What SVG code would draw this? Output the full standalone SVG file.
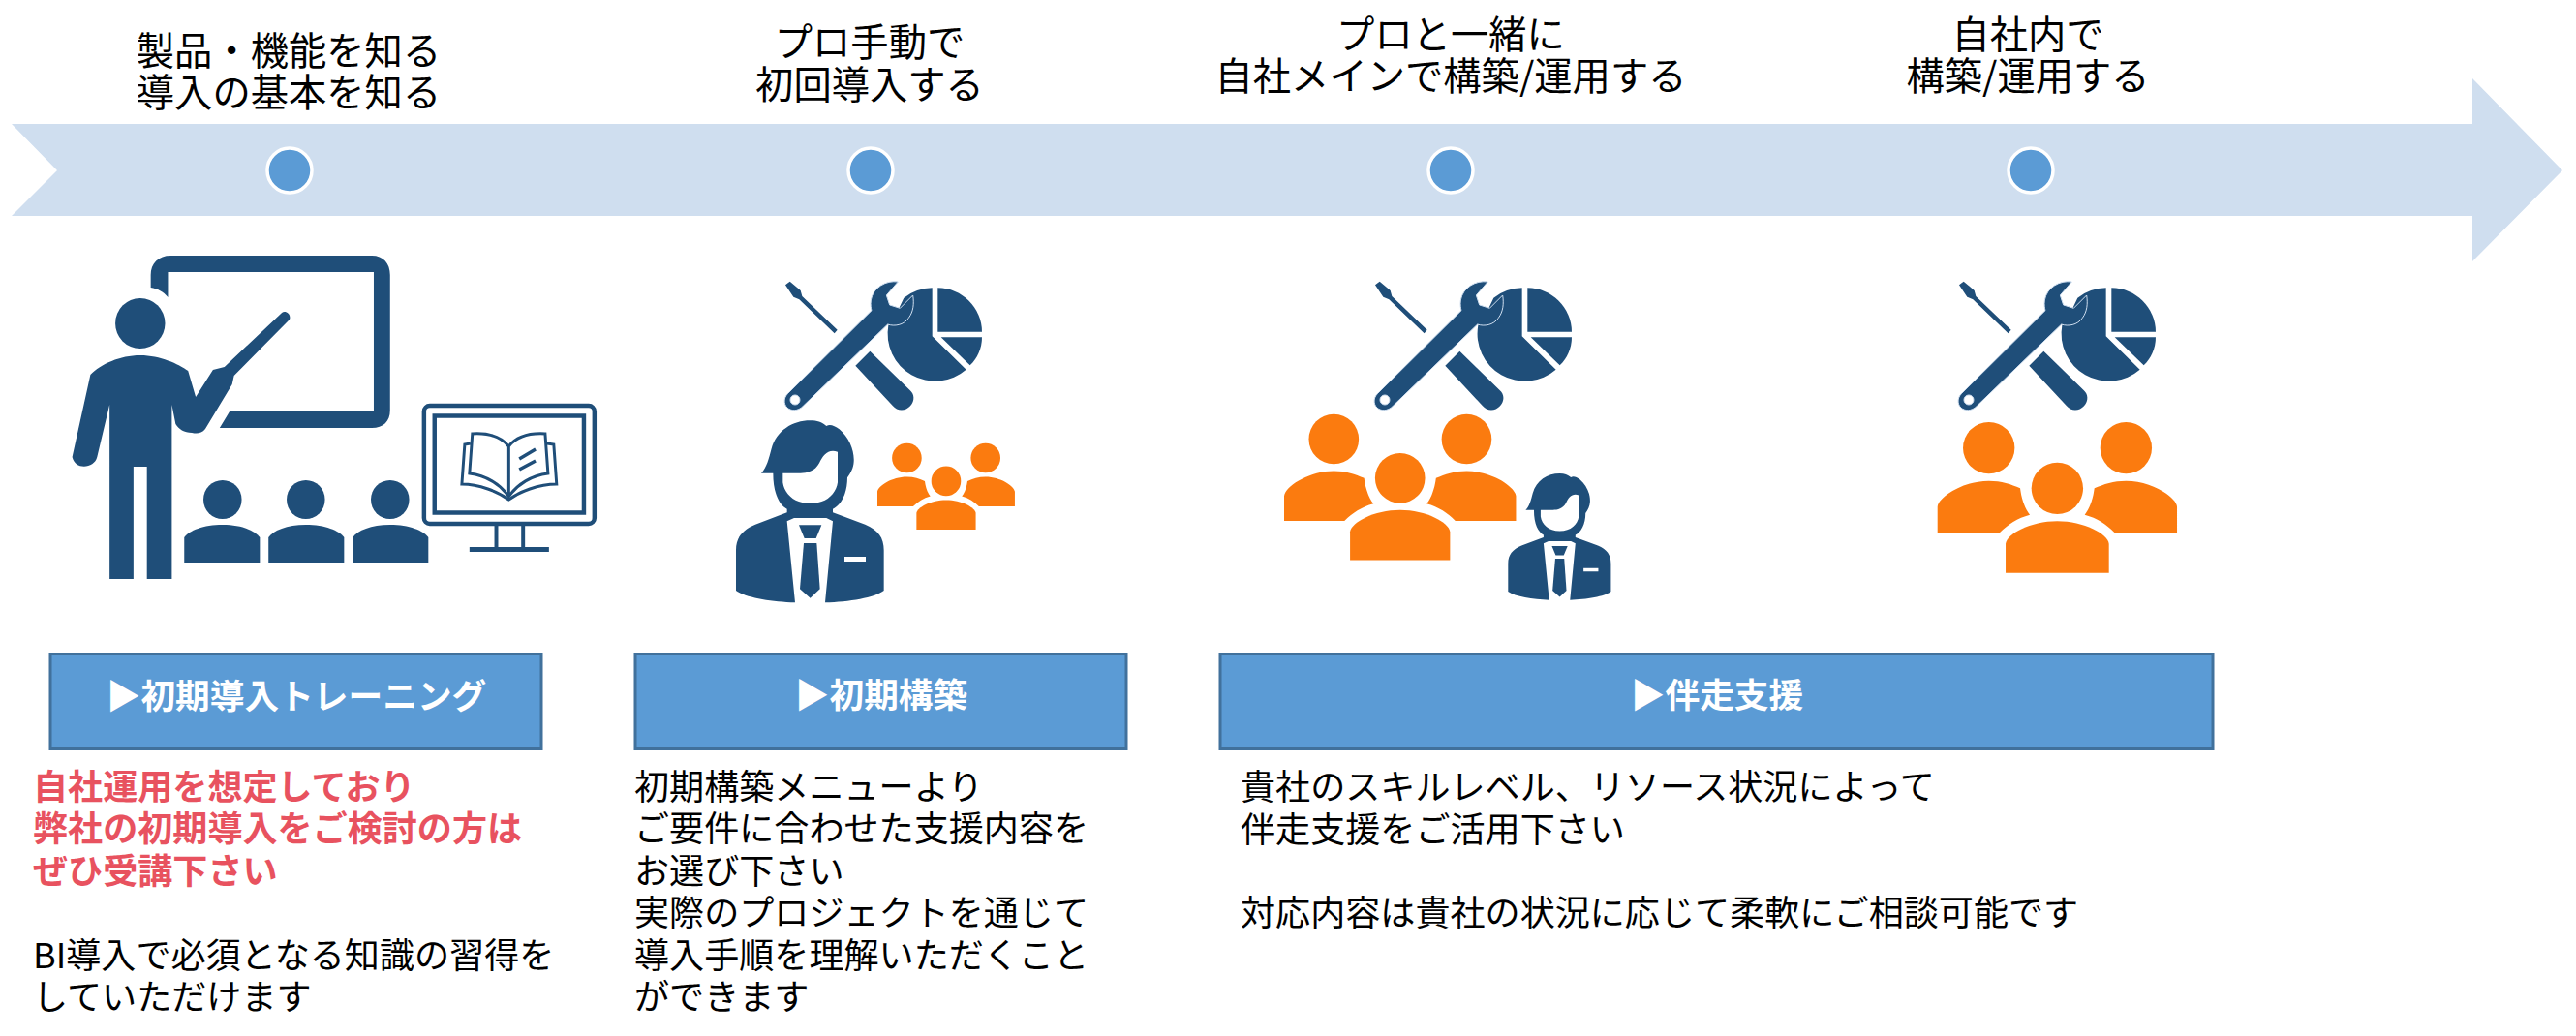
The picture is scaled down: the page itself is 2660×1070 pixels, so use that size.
<svg xmlns="http://www.w3.org/2000/svg" xmlns:xlink="http://www.w3.org/1999/xlink" width="2660" height="1070" viewBox="0 0 2660 1070">
<style>
text{font-family:"Noto Sans CJK JP","Noto Sans",sans-serif;fill:#000}
.h{font-size:39.300px;text-anchor:middle}
.b{font-size:36.100px}
.r{font-size:36.100px;font-weight:700;fill:#e8525f}
.t{font-size:35.700px;font-weight:700;fill:#fff;text-anchor:middle}
.box{fill:#5b9bd5;stroke:#41719c;stroke-width:3}
.dot{fill:#5b9bd5;stroke:#fff;stroke-width:3.500}
.navy{fill:#1f4e79}
.or{fill:#fb7b0f}
</style>
<defs>
<g id="tools" class="navy">
<path d="M273 103L287 92L320 120L325 138L434 242L425 253L316 148L298 140Z"/>
<path d="M535 308L490 353L606 478C620 495 645 495 660 478C675 462 673 440 658 428Z"/>
<path d="M728 112A147 147 0 0 0 640 143L625 175L592 228A147 147 0 0 0 833 365L728 262Z"/>
<path d="M745 112C820 112 882 175 882 248L745 248Z"/>
<path d="M755 265L882 265C882 300 868 330 845 352Z"/>
<path fill-rule="evenodd" stroke="#cfdeef" stroke-width="3" d="M622 93C585 88 545 110 538 150C536 165 538 175 540 182L280 440C265 455 268 478 284 487C298 495 316 491 328 478L590 225C610 232 640 228 655 205C670 185 672 160 668 135L628 175L596 165L586 135Z M303 444A15 15 0 1 0 303 474A15 15 0 1 0 303 444Z"/>
</g>
<g id="people" class="or">
<circle cx="281" cy="608" r="80"/><circle cx="706" cy="608" r="80"/><circle cx="493" cy="733" r="80"/>
<path d="M122 870L122 790C125 760 200 710 281 710C320 710 350 720 378 733C382 765 392 795 408 815C370 825 340 845 315 870Z"/>
<path d="M864 870L864 790C861 760 786 710 706 710C667 710 637 720 608 733C604 765 594 795 578 815C616 825 646 845 670 870Z"/>
<path d="M333 995L333 905C336 875 410 835 493 835C576 835 650 875 653 905L653 995Z"/>
</g>
<g id="man" class="navy">
<path fill-rule="evenodd" d="M198 686C215 670 222 640 230 610C245 555 295 523 350 523C372 523 385 528 400 540C412 533 425 540 440 550C470 575 487 615 485 650C484 670 475 685 465 700C465 750 445 785 420 797L420 808L520 845C560 862 578 885 578 925L578 1050C550 1072 470 1085 396 1087L420 835L400 825L300 825L278 835L303 1087C230 1085 150 1072 120 1050L120 925C120 885 140 862 180 845L278 808L278 797C255 785 235 750 235 686Z M265 686L265 715C270 750 300 780 350 780C400 780 430 750 435 715L435 620C405 610 390 630 378 655C365 680 340 686 320 686Z"/>
<path d="M315 847L385 847L368 888L332 888Z"/>
<path d="M330 903L370 903L380 1045L350 1073L318 1045Z"/>
<rect x="456" y="945" width="66" height="15" fill="#fff"/>
</g>
</defs>
<rect width="2660" height="1070" fill="#fff"/>

<g id="timeline">
<path fill="#cfdeef" d="M12 128L2553 128L2553 81L2646 176L2553 270L2553 223L12 223L59 176Z"/>
<circle class="dot" cx="299" cy="176" r="23"/>
<circle class="dot" cx="899" cy="176" r="23"/>
<circle class="dot" cx="1498" cy="176" r="23"/>
<circle class="dot" cx="2097" cy="176" r="23"/>
</g>

<g id="step1-head"><text class="h"><tspan x="298" y="67">製品・機能を知る</tspan><tspan x="298" y="110">導入の基本を知る</tspan></text></g>
<g id="step2-head"><text class="h"><tspan x="898" y="58">プロ手動で</tspan><tspan x="898" y="102">初回導入する</tspan></text></g>
<g id="step3-head"><text class="h"><tspan x="1498" y="50">プロと一緒に</tspan><tspan x="1498" y="93">自社メインで構築/運用する</tspan></text></g>
<g id="step4-head"><text class="h"><tspan x="2094" y="50">自社内で</tspan><tspan x="2094" y="93">構築/運用する</tspan></text></g>

<g id="icon-training" class="navy" transform="translate(40 0) scale(.9885 1) translate(-40 0)">
<path d="M157 297L157 284C157 272 165 264 178 264L388 264C400 264 407 272 407 284L407 424C407 435 400 442 388 442L229 442L240 424L390 424L390 281L175 281L175 307C170 301 164 298 157 297Z"/>
<circle cx="146" cy="334" r="26"/>
<path d="M94 387C105 376 125 367 146 367C167 367 186 376 196 383L204 410L222 382L234 379L294 323C298 320 304 325 302 330L244 388L242 397L214 443C210 448 205 448 200 447C192 447 186 443 183 438L179 418L179 598L153 598L153 482L139 482L139 598L114 598L114 418L101 472C98 484 78 486 75 472Z"/>
<g id="students">
<circle cx="232" cy="516" r="20"/><circle cx="319" cy="516" r="20"/><circle cx="407" cy="516" r="20"/>
<path d="M192 581L192 555C197 548 212 542 232 542C252 542 266 548 271 555L271 581Z"/>
<path d="M280 581L280 555C285 548 299 542 319 542C339 542 354 548 359 555L359 581Z"/>
<path d="M368 581L368 555C373 548 387 542 407 542C427 542 442 548 447 555L447 581Z"/>
</g>
<g id="monitor" fill="none" stroke="#1f4e79">
<rect x="442.500" y="419" width="178" height="122" rx="6" stroke-width="4.500"/>
<rect x="453.500" y="429.500" width="156" height="100" stroke-width="4.500"/>
<path stroke-width="4" d="M518 543L518 566M546 543L546 566"/>
<path stroke-width="5" d="M490 567.500L573 567.500"/>
<path stroke-width="3" d="M531 461C523 451 510 447 493 448L490 489C507 491 522 500 531 513C540 500 555 491 572 489L569 448C552 447 539 451 531 461L531 513"/>
<path stroke-width="3" d="M491 458L485 459L482 500C500 500 520 508 531 516C542 508 562 500 581 500L578 459L571 458"/>
<path stroke-width="3.500" d="M542 474L559 464M542 485L559 476"/>
</g>
</g>

<g id="icon-build">
<use xlink:href="#tools" href="#tools" transform="translate(720 260) scale(.33333)"/>
<use xlink:href="#man" href="#man" transform="translate(720 260) scale(.33333)"/>
<use xlink:href="#people" href="#people" transform="translate(906 457.700) scale(.1913) translate(-122 -528)"/>
</g>
<g id="icon-support">
<use xlink:href="#tools" href="#tools" transform="translate(1329 260) scale(.33333)"/>
<use xlink:href="#people" href="#people" transform="translate(1326 427.700) scale(.3227) translate(-122 -528)"/>
<use xlink:href="#man" href="#man" transform="translate(1557.300 489) scale(.2317) translate(-120 -523)"/>
</g>
<g id="icon-inhouse">
<use xlink:href="#tools" href="#tools" transform="translate(1932 260) scale(.33333)"/>
<use xlink:href="#people" href="#people" transform="translate(2000.700 436) scale(.33333) translate(-122 -528)"/>
</g>

<g id="box-training"><rect class="box" x="52" y="675.500" width="507" height="98"/><text class="t" x="306" y="732">▶初期導入トレーニング</text></g>
<g id="box-build"><rect class="box" x="656" y="675.500" width="507" height="98"/><text class="t" x="910" y="731">▶初期構築</text></g>
<g id="box-support"><rect class="box" x="1260" y="675.500" width="1025" height="98"/><text class="t" x="1773" y="731">▶伴走支援</text></g>

<g id="desc-training">
<text class="r"><tspan x="34" y="826">自社運用を想定しており</tspan><tspan x="34" y="869">弊社の初期導入をご検討の方は</tspan><tspan x="34" y="913">ぜひ受講下さい</tspan></text>
<text class="b"><tspan x="34" y="1000">BI導入で必須となる知識の習得を</tspan><tspan x="34" y="1043">していただけます</tspan></text>
</g>
<g id="desc-build">
<text class="b"><tspan x="655" y="826">初期構築メニューより</tspan><tspan x="655" y="869">ご要件に合わせた支援内容を</tspan><tspan x="655" y="913">お選び下さい</tspan><tspan x="655" y="956">実際のプロジェクトを通じて</tspan><tspan x="655" y="1000">導入手順を理解いただくこと</tspan><tspan x="655" y="1043">ができます</tspan></text>
</g>
<g id="desc-support">
<text class="b"><tspan x="1281" y="826">貴社のスキルレベル、リソース状況によって</tspan><tspan x="1281" y="870">伴走支援をご活用下さい</tspan></text>
<text class="b" x="1281" y="956">対応内容は貴社の状況に応じて柔軟にご相談可能です</text>
</g>
</svg>
